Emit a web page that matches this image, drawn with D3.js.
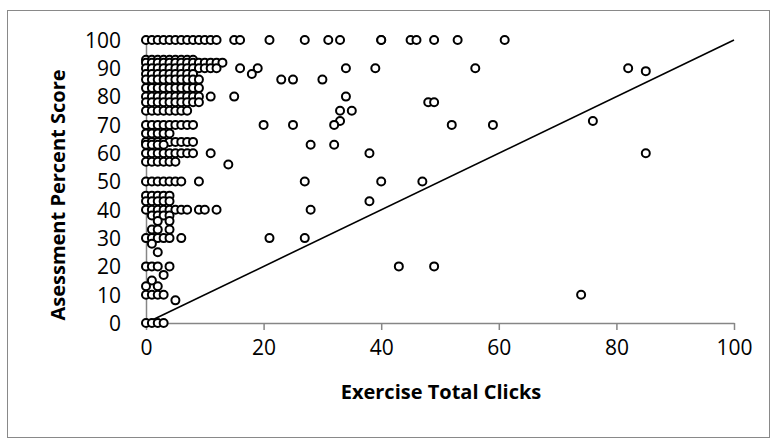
<!DOCTYPE html>
<html>
<head>
<meta charset="utf-8">
<script src="https://cdn.jsdelivr.net/npm/d3@7"></script>
<style>
  body { margin: 0; background: #fff; }
  text { font-family: "Open Sans", sans-serif; fill: #000; }
</style>
</head>
<body>
<div id="chart"></div>
<script>
// score levels and the click counts seen at each level
const scoreLevels = [100, 93, 92, 90, 89, 88, 86, 83, 80, 78, 75, 71.4, 70, 67, 64, 63, 60, 57, 56,
  50, 45, 43, 40, 38, 36, 33, 30, 28, 25, 20, 17, 15, 13, 10, 8, 0];
const clicksAtLevel = [
  [0, 1, 2, 3, 4, 5, 6, 7, 8, 9, 10, 11, 12, 15, 16, 21, 27, 31, 33, 40, 40, 45, 46, 49, 53, 61],
  [0, 1, 2, 3, 4, 5, 6, 7, 8],
  [0, 1, 2, 3, 4, 5, 6, 7, 8, 9, 10, 11, 12, 13],
  [0, 1, 2, 3, 4, 5, 6, 7, 8, 9, 10, 11, 12, 16, 19, 34, 39, 56, 82],
  [85],
  [0, 1, 2, 3, 4, 5, 6, 7, 8, 18],
  [0, 1, 2, 3, 4, 5, 6, 7, 8, 9, 23, 25, 30],
  [0, 1, 2, 3, 4, 5, 6, 7, 8, 9],
  [0, 1, 2, 3, 4, 5, 6, 7, 8, 9, 11, 15, 34],
  [0, 1, 2, 3, 4, 5, 6, 7, 8, 9, 48, 49],
  [0, 1, 2, 3, 4, 5, 6, 7, 33, 35],
  [33, 76],
  [0, 1, 2, 3, 4, 5, 6, 7, 8, 20, 25, 32, 52, 59],
  [0, 1, 2, 3, 4],
  [0, 1, 2, 3, 4, 5, 6, 7, 8],
  [0, 1, 2, 3, 28, 32],
  [0, 1, 2, 3, 4, 5, 6, 7, 8, 11, 38, 85],
  [0, 1, 2, 3, 4, 5],
  [14],
  [0, 1, 2, 3, 4, 5, 6, 9, 27, 40, 47],
  [0, 1, 2, 3, 4],
  [0, 1, 2, 3, 4, 38],
  [0, 1, 2, 3, 4, 5, 6, 7, 9, 10, 12, 28],
  [1, 2, 3, 4],
  [2, 4],
  [1, 2, 4],
  [0, 1, 2, 3, 4, 6, 21, 27],
  [1],
  [2],
  [0, 1, 2, 4, 43, 49],
  [3],
  [1],
  [0, 2],
  [0, 1, 2, 3, 74],
  [5],
  [0, 1, 2, 3]
];
const refLineX = [0, 100];
const refLineY = [0, 100];
const xTicks = [0, 20, 40, 60, 80, 100];
const yTicks = [0, 10, 20, 30, 40, 50, 60, 70, 80, 90, 100];

const width = 771, height = 440;
const axisColor = "#868686";

const svg = d3.select("#chart").append("svg")
  .attr("width", width)
  .attr("height", height);

// chart frame
svg.append("rect")
  .attr("x", 7.5).attr("y", 10.5)
  .attr("width", 762).attr("height", 427)
  .attr("fill", "white")
  .attr("stroke", "#898989")
  .attr("stroke-width", 1);

const x = d3.scaleLinear().domain([0, 100]).range([146, 734]);
const y = d3.scaleLinear().domain([0, 100]).range([323, 40]);

const xAxis = svg.append("g")
  .attr("transform", `translate(0,${y(0)})`)
  .call(d3.axisBottom(x).tickValues(xTicks).tickSize(7).tickSizeOuter(0).tickPadding(10));

const yAxis = svg.append("g")
  .attr("transform", `translate(${x(0)},0)`)
  .call(d3.axisLeft(y).tickValues(yTicks).tickSize(5).tickSizeOuter(0).tickPadding(20));

[xAxis, yAxis].forEach(a => {
  a.select(".domain").attr("stroke", axisColor).attr("stroke-width", 1.5);
  a.selectAll(".tick line").attr("stroke", axisColor).attr("stroke-width", 1.5);
  a.selectAll(".tick text")
    .style("font-family", "'Open Sans', sans-serif")
    .style("font-size", "21px")
    .attr("fill", "#000");
});
xAxis.selectAll(".tick text").attr("dy", "0.71em");
yAxis.selectAll(".tick text").attr("dy", "0.35em");

// y = x reference line
const line = d3.line().x(d => x(d[0])).y(d => y(d[1]));
svg.append("path")
  .datum(refLineX.map((v, i) => [v, refLineY[i]]))
  .attr("d", line)
  .attr("fill", "none")
  .attr("stroke", "#000")
  .attr("stroke-width", 1.6);

const points = [];
scoreLevels.forEach((s, i) => {
  clicksAtLevel[i].forEach(c => points.push({ clicks: c, score: s }));
});

svg.append("g").selectAll("circle")
  .data(points)
  .enter().append("circle")
  .attr("cx", d => x(d.clicks))
  .attr("cy", d => y(d.score))
  .attr("r", 4)
  .attr("fill", "white")
  .attr("stroke", "#000")
  .attr("stroke-width", 2);

svg.append("text")
  .attr("x", 441)
  .attr("y", 392)
  .attr("dy", "0.35em")
  .attr("text-anchor", "middle")
  .style("font-weight", "bold")
  .style("font-size", "20px")
  .text("Exercise Total Clicks");

svg.append("text")
  .attr("transform", "translate(57.5,195) rotate(-90)")
  .attr("dy", "0.35em")
  .attr("text-anchor", "middle")
  .style("font-weight", "bold")
  .style("font-size", "20px")
  .text("Asessment Percent Score");
</script>
</body>
</html>
